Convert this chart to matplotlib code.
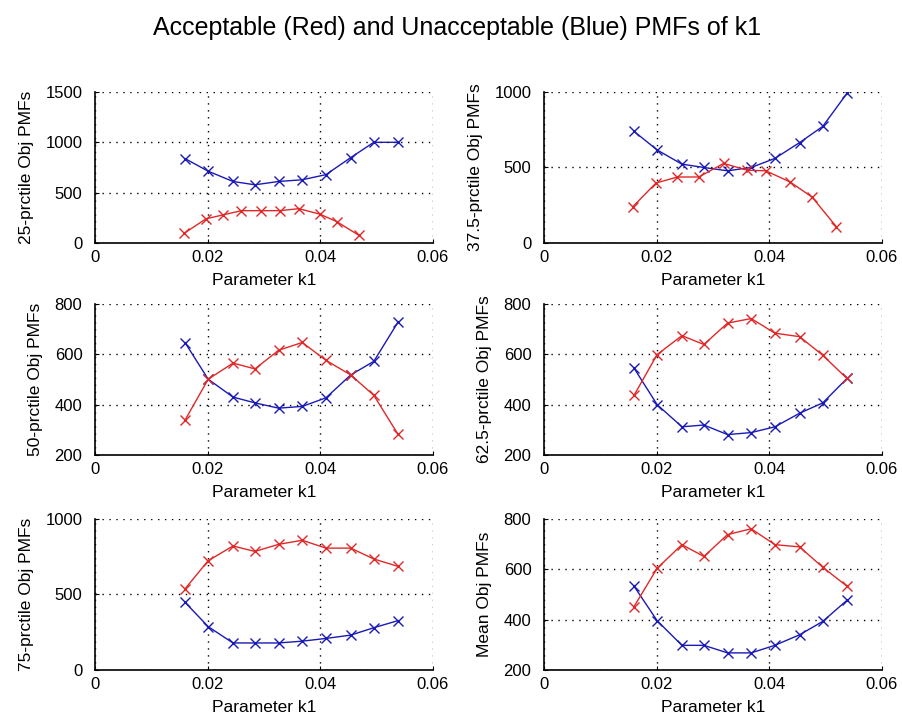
import matplotlib
matplotlib.use("Agg")
import matplotlib.pyplot as plt

plt.rcParams['font.family'] = ['Liberation Sans', 'DejaVu Sans']

# shared k1 bin centres
k1 = [0.0160, 0.0201, 0.0245, 0.0284, 0.0326, 0.0368, 0.0410, 0.0454, 0.0495, 0.0538]
k1_red_25 = [0.0158, 0.0197, 0.0228, 0.0260, 0.0295, 0.0328, 0.0362, 0.0399, 0.0429, 0.0468]
k1_red_375 = [0.0158, 0.0199, 0.0237, 0.0275, 0.0319, 0.0361, 0.0394, 0.0437, 0.0476, 0.0519]

# unacceptable (blue) / acceptable (red) PMFs
blue_25 = [838, 713, 611, 578, 611, 628, 679, 848, 1000, 1000]
red_25 = [95, 240, 280, 321, 321, 321, 341, 287, 213, 78]
blue_375 = [739, 616, 522, 500, 478, 500, 560, 665, 772, 991]
red_375 = [241, 397, 437, 437, 527, 482, 478, 404, 304, 109]
blue_50 = [646, 501, 430, 407, 386, 393, 427, 518, 572, 728]
red_50 = [339, 501, 565, 542, 616, 647, 576, 518, 437, 282]
blue_625 = [545, 400, 312, 319, 281, 289, 312, 366, 407, 504]
red_625 = [437, 599, 674, 639, 724, 742, 684, 670, 596, 504]
blue_75 = [448, 287, 179, 179, 179, 191, 209, 231, 280, 327]
red_75 = [538, 724, 821, 785, 832, 859, 807, 807, 735, 686]
blue_mean = [533, 396, 298, 298, 268, 268, 298, 340, 393, 477]
red_mean = [452, 604, 698, 651, 738, 761, 698, 689, 608, 533]

panels = [
    ("25-prctile Obj PMFs", k1, blue_25, k1_red_25, red_25, [0, 500, 1000, 1500]),
    ("37.5-prctile Obj PMFs", k1, blue_375, k1_red_375, red_375, [0, 500, 1000]),
    ("50-prctile Obj PMFs", k1, blue_50, k1, red_50, [200, 400, 600, 800]),
    ("62.5-prctile Obj PMFs", k1, blue_625, k1, red_625, [200, 400, 600, 800]),
    ("75-prctile Obj PMFs", k1, blue_75, k1, red_75, [0, 500, 1000]),
    ("Mean Obj PMFs", k1, blue_mean, k1, red_mean, [200, 400, 600, 800]),
]

fig = plt.figure(figsize=(9.02, 7.23), dpi=100)
fig.text(0.507, 0.952, "Acceptable (Red) and Unacceptable (Blue) PMFs of k1",
         ha='center', va='baseline', fontsize=18)

lefts = [0.1053, 0.603]
bottoms = [0.6639, 0.3707, 0.0733]
w, h = 0.3747, 0.2089

for i, (ylab, xb, yb, xr, yr, yt) in enumerate(panels):
    ax = fig.add_axes([lefts[i % 2], bottoms[i // 2], w, h])
    ax.plot(xb, yb, color='#1a1ab4', marker='x', ms=7, lw=1, mew=1)
    ax.plot(xr, yr, color='#e02828', marker='x', ms=7, lw=1, mew=1)
    ax.set_xlim(0, 0.06)
    ax.set_ylim(yt[0], yt[-1])
    ax.set_xticks([0, 0.02, 0.04, 0.06])
    ax.set_xticklabels(['0', '0.02', '0.04', '0.06'])
    ax.set_yticks(yt)
    ax.grid(True, color='black', linestyle=(0, (1, 4)), lw=1)
    for s in ('top', 'right'):
        ax.spines[s].set_visible(False)
    for s in ('left', 'bottom'):
        ax.spines[s].set_linewidth(1.2)
    ax.tick_params(direction='in', length=3, labelsize=12)
    ax.tick_params(axis='y', pad=9)
    ax.tick_params(axis='x', pad=5)
    ax.set_xlabel("Parameter k1", fontsize=12.5, labelpad=6)
    ax.set_ylabel(ylab, fontsize=12.5, labelpad=8)

fig.savefig("out.png", dpi=100)
